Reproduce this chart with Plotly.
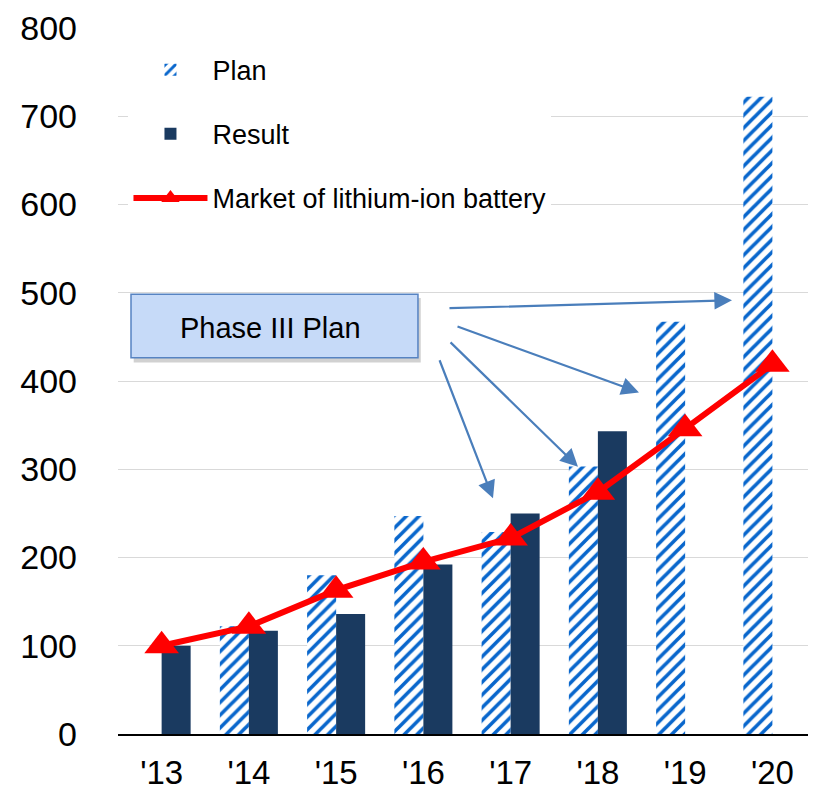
import plotly.graph_objects as go

years = ["'13", "'14", "'15", "'16", "'17", "'18", "'19", "'20"]
plan = [None, 122, 180, 247, 229, 303, 467, 722]
result = [100, 117, 136, 192, 250, 343, None, None]
market = [100, 122, 163, 195, 222, 274, 346, 419]
y_ticks = [0, 100, 200, 300, 400, 500, 600, 700, 800]

FONT = "Liberation Sans, Arial, sans-serif"
ARROW = "#4a7ebb"

fig = go.Figure()
fig.add_trace(go.Bar(
    x=years, y=plan, name="Plan", legendgroup="a",
    marker=dict(color="white", line=dict(width=0),
                pattern=dict(shape="/", fgcolor="#0866cc", bgcolor="white",
                             size=9, solidity=0.4, fillmode="replace")),
))
fig.add_trace(go.Bar(
    x=years, y=result, name="Result", legendgroup="b",
    marker=dict(color="#1a3a60", line=dict(width=0)),
))
fig.add_trace(go.Scatter(
    x=years, y=market, name="Market of lithium-ion battery", legendgroup="c",
    mode="lines+markers",
    line=dict(color="#ff0000", width=6),
    marker=dict(symbol="triangle-up", size=30, color="#ff0000"),
))

# Phase III Plan box (shadow + box)
fig.add_shape(type="rect", xref="x", yref="y", x0=-0.32, x1=2.97, y0=421, y1=494,
              fillcolor="rgba(0,0,0,0.18)", line=dict(width=0), layer="above")
fig.add_shape(type="rect", xref="x", yref="y", x0=-0.351, x1=2.938, y0=426.4, y1=498.2,
              fillcolor="#c6daf8", line=dict(color="#5683c2", width=1.5), layer="above")
fig.add_annotation(x=1.25, y=460, xref="x", yref="y", text="Phase III Plan",
                   showarrow=False, font=dict(family=FONT, size=29, color="black"))

arrows = [
    ((3.282, 482.5), (6.537, 491.4)),
    ((3.374, 462.3), (5.471, 387.1)),
    ((3.294, 445.4), (4.772, 302.9)),
    ((3.179, 425.2), (3.798, 267.0)),
]
for (tx, ty), (hx, hy) in arrows:
    fig.add_annotation(x=hx, y=hy, ax=tx, ay=ty, xref="x", yref="y",
                       axref="x", ayref="y", text="", showarrow=True,
                       arrowhead=2, arrowsize=1.6, arrowwidth=2.2,
                       arrowcolor=ARROW, standoff=0)

fig.update_layout(
    width=808, height=783,
    margin=dict(l=110, r=0, t=20, b=50),
    paper_bgcolor="white", plot_bgcolor="white",
    barmode="group", bargap=0.335, bargroupgap=0,
    font=dict(family=FONT, color="black"),
    showlegend=True,
    legend=dict(x=0.015, y=0.975, xanchor="left", yanchor="top",
                bgcolor="white", font=dict(family=FONT, size=27, color="black"),
                traceorder="grouped", tracegroupgap=26, itemwidth=74),
    xaxis=dict(type="category", range=[-0.5, 7.5], showgrid=False,
               showline=True, linecolor="black", linewidth=1.5,
               tickfont=dict(family=FONT, size=33, color="black"),
               ticks="", ticklabelstandoff=9, zeroline=False),
    yaxis=dict(range=[0, 800], tickvals=y_ticks, showgrid=True,
               gridcolor="#d9d9d9", gridwidth=1, showline=False, zeroline=False,
               tickfont=dict(family=FONT, size=34, color="black"),
               ticks="", ticklabelstandoff=40),
)

fig.write_html("out.html")
